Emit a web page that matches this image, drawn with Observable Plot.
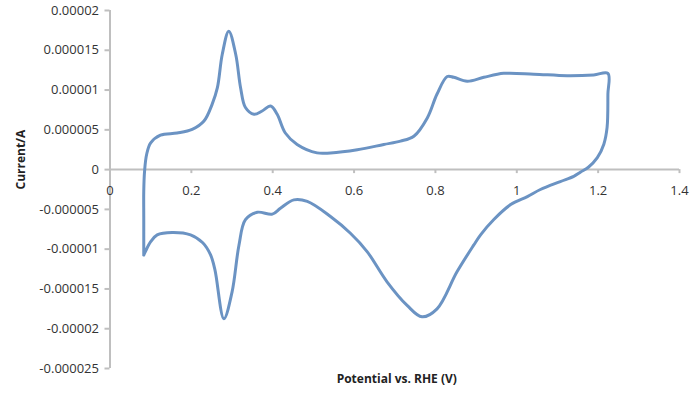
<!DOCTYPE html>
<html>
<head>
<meta charset="utf-8">
<script src="https://cdn.jsdelivr.net/npm/d3@7"></script>
<script src="https://cdn.jsdelivr.net/npm/@observablehq/plot@0.6"></script>
<style>
  html, body { margin: 0; padding: 0; background: #fff; }
  #chart { width: 691px; height: 393px; }
</style>
</head>
<body>
<div id="chart"></div>
<script>
// Cyclic voltammogram
const potential = [
  0.083, 0.083, 0.083, 0.085, 0.090, 0.100, 0.124, 0.165, 0.202, 0.231,
  0.251, 0.264, 0.276, 0.292, 0.309, 0.321, 0.333, 0.354, 0.374, 0.395,
  0.411, 0.431, 0.460, 0.509, 0.542, 0.608, 0.673, 0.714, 0.747, 0.780,
  0.804, 0.829, 0.845, 0.878, 0.919, 0.968, 1.042, 1.124, 1.189, 1.224,
  1.224, 1.222, 1.214, 1.198, 1.176, 1.157, 1.140, 1.107, 1.058, 1.026,
  0.985, 0.943, 0.911, 0.894, 0.853, 0.804, 0.767, 0.731, 0.681, 0.632,
  0.591, 0.542, 0.485, 0.452, 0.419, 0.399, 0.362, 0.333, 0.317, 0.300,
  0.280, 0.258, 0.247, 0.228, 0.198, 0.153, 0.116, 0.100, 0.087, 0.083
];
const current = [
  -10.7e-6, -6.0e-6, -2.7e-6, -0.2e-6, 1.9e-6, 3.36e-6, 4.33e-6, 4.6e-6, 5.05e-6, 6.1e-6,
  8.2e-6, 10.3e-6, 14.5e-6, 17.4e-6, 14.5e-6, 10.3e-6, 7.8e-6, 6.95e-6, 7.37e-6, 8.0e-6,
  6.95e-6, 4.6e-6, 3.16e-6, 2.1e-6, 2.1e-6, 2.5e-6, 3.16e-6, 3.58e-6, 4.2e-6, 6.5e-6,
  9.5e-6, 11.7e-6, 11.6e-6, 11.1e-6, 11.6e-6, 12.1e-6, 12.0e-6, 11.8e-6, 11.9e-6, 12.1e-6,
  9.5e-6, 5.3e-6, 3.2e-6, 1.5e-6, 0.3e-6, -0.3e-6, -0.85e-6, -1.5e-6, -2.5e-6, -3.4e-6,
  -4.4e-6, -6.3e-6, -8.2e-6, -9.5e-6, -12.85e-6, -17.5e-6, -18.5e-6, -17.1e-6, -14.1e-6, -10.3e-6,
  -8.0e-6, -5.9e-6, -4.0e-6, -3.8e-6, -4.85e-6, -5.6e-6, -5.36e-6, -6.3e-6, -9.5e-6, -15.4e-6,
  -18.75e-6, -12.6e-6, -10.7e-6, -9.2e-6, -8.2e-6, -7.9e-6, -8.2e-6, -9.06e-6, -10.3e-6, -10.74e-6
];

const xTicks = [0, 0.2, 0.4, 0.6, 0.8, 1, 1.2, 1.4];
const xTickLabels = ["0", "0.2", "0.4", "0.6", "0.8", "1", "1.2", "1.4"];
const yTicks = [0.00002, 0.000015, 0.00001, 0.000005, 0, -0.000005, -0.00001, -0.000015, -0.00002, -0.000025];
const yTickLabels = ["0.00002", "0.000015", "0.00001", "0.000005", "0", "-0.000005", "-0.00001", "-0.000015", "-0.00002", "-0.000025"];
const xDomain = [0, 1.4];
const yDomain = [-0.000025, 0.00002];
const xTitle = "Potential vs. RHE (V)";
const yTitle = "Current/A";

const data = potential.map((p, i) => ({p, c: current[i]}));
const axisColor = "#bfbfbf";
const textColor = "#333333";

const chart = Plot.plot({
  width: 691,
  height: 393,
  marginLeft: 109.5,
  marginRight: 12,
  marginTop: 10,
  marginBottom: 25,
  x: {domain: xDomain, axis: null},
  y: {domain: yDomain, axis: null},
  style: {fontFamily: "'Open Sans', sans-serif", fontSize: "13px", background: "#fff", overflow: "visible"},
  marks: [
    // y axis line and ticks
    Plot.ruleX([xDomain[0]], {y1: yDomain[0], y2: yDomain[1], stroke: axisColor, strokeWidth: 2}),
    Plot.axisY(yTicks, {
      label: null,
      tickSize: 5, tickPadding: 6, stroke: axisColor, strokeWidth: 2, fill: textColor,
      tickFormat: d => yTickLabels[yTicks.indexOf(d)]
    }),
    // x axis at y = 0
    Plot.ruleY([0], {x1: xDomain[0], x2: xDomain[1], stroke: axisColor, strokeWidth: 2}),
    Plot.ruleX(xTicks, {y1: 0, y2: 0, insetBottom: -4, stroke: axisColor, strokeWidth: 2}),
    Plot.text(xTicks, {x: d => d, y: 0, text: (d, i) => xTickLabels[i], dy: 21, fill: textColor}),
    // curve
    Plot.line(data, {x: "p", y: "c", stroke: "#6b93c3", strokeWidth: 3, curve: "catmull-rom", strokeLinejoin: "round"}),
    // titles
    Plot.text([yTitle], {frameAnchor: "left", rotate: -90, dx: -88.5, fontWeight: "bold", fontSize: 12, fill: "#222"}),
    Plot.text([xTitle], {frameAnchor: "bottom", dy: 14, dx: 2, fontWeight: "bold", fontSize: 12, fill: "#222"})
  ]
});
document.getElementById("chart").appendChild(chart);
</script>
</body>
</html>
